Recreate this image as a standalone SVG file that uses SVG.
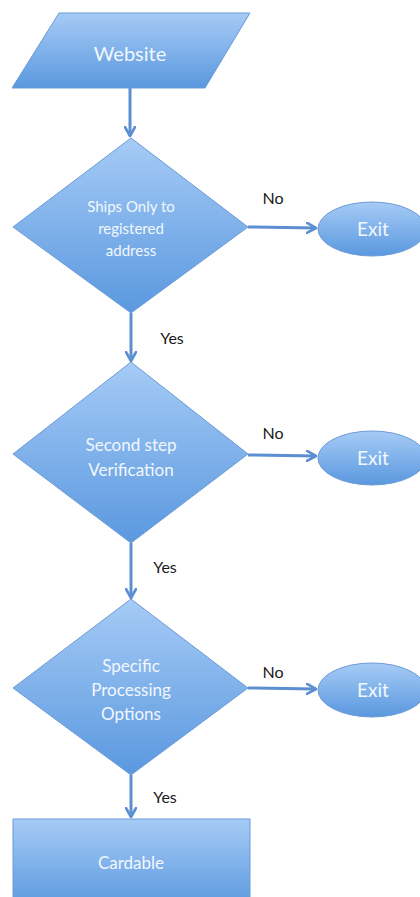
<svg xmlns="http://www.w3.org/2000/svg" width="420" height="897" viewBox="0 0 420 897">
<defs>
<linearGradient id="g" x1="0" y1="0" x2="0" y2="1">
<stop offset="0" stop-color="#a6cbf6"/>
<stop offset="1" stop-color="#5a98df"/>
</linearGradient>
<marker id="ah" viewBox="0 0 12 12" refX="10" refY="6" markerWidth="12" markerHeight="12" markerUnits="userSpaceOnUse" orient="auto">
<path d="M1,1 L10,6 L1,11" fill="none" stroke="#5b8fd2" stroke-width="2.6" stroke-linecap="round" stroke-linejoin="round"/>
</marker>
</defs>
<style>
.shape{fill:url(#g);stroke:#6b9bd6;stroke-width:1}
.t{font-family:Lato,"Liberation Sans",sans-serif;fill:#f2f7fd;text-anchor:middle}
.lbl{font-family:Lato,"Liberation Sans",sans-serif;fill:#1a1a1a;font-size:16px}
.c{stroke:#5b8fd2;stroke-width:3;fill:none;marker-end:url(#ah)}
</style>
<rect width="420" height="897" fill="#ffffff"/>
<g id="connectors">
<line class="c" x1="130" y1="88" x2="130" y2="136"/>
<line class="c" x1="248" y1="227" x2="316" y2="228"/>
<line class="c" x1="131" y1="313" x2="131" y2="361"/>
<line class="c" x1="248" y1="455" x2="316" y2="456"/>
<line class="c" x1="131" y1="543" x2="131" y2="598"/>
<line class="c" x1="248" y1="688" x2="316" y2="689"/>
<line class="c" x1="131" y1="775" x2="131" y2="817"/>
<text class="lbl" x="273" y="204" text-anchor="middle">No</text>
<text class="lbl" x="172" y="344" text-anchor="middle">Yes</text>
<text class="lbl" x="273" y="439" text-anchor="middle">No</text>
<text class="lbl" x="165" y="573" text-anchor="middle">Yes</text>
<text class="lbl" x="273" y="678" text-anchor="middle">No</text>
<text class="lbl" x="165" y="803" text-anchor="middle">Yes</text>
</g>
<g id="website">
<polygon class="shape" points="59,13 250,13 205,88 12,88"/>
<text class="t" x="130" y="61" font-size="20">Website</text>
</g>
<g id="d1">
<polygon class="shape" points="131,138 248,227 131,313 13,227"/>
<text class="t" x="131" y="212" font-size="15">Ships Only to</text>
<text class="t" x="131" y="234" font-size="15">registered</text>
<text class="t" x="131" y="256" font-size="15">address</text>
</g>
<g id="exit1">
<ellipse class="shape" cx="372" cy="229" rx="54" ry="27"/>
<text class="t" x="373" y="236" font-size="19">Exit</text>
</g>
<g id="d2">
<polygon class="shape" points="131,362 248,454 131,543 13,454"/>
<text class="t" x="131" y="451" font-size="17">Second step</text>
<text class="t" x="131" y="476" font-size="17">Verification</text>
</g>
<g id="exit2">
<ellipse class="shape" cx="372" cy="458" rx="54" ry="27"/>
<text class="t" x="373" y="465" font-size="19">Exit</text>
</g>
<g id="d3">
<polygon class="shape" points="131,599 248,688 131,775 13,688"/>
<text class="t" x="131" y="672" font-size="17">Specific</text>
<text class="t" x="131" y="696" font-size="17">Processing</text>
<text class="t" x="131" y="720" font-size="17">Options</text>
</g>
<g id="exit3">
<ellipse class="shape" cx="372" cy="690" rx="54" ry="27"/>
<text class="t" x="373" y="697" font-size="19">Exit</text>
</g>
<g id="cardable">
<rect class="shape" x="13" y="819" width="237" height="90"/>
<text class="t" x="131" y="869" font-size="17">Cardable</text>
</g>
</svg>
